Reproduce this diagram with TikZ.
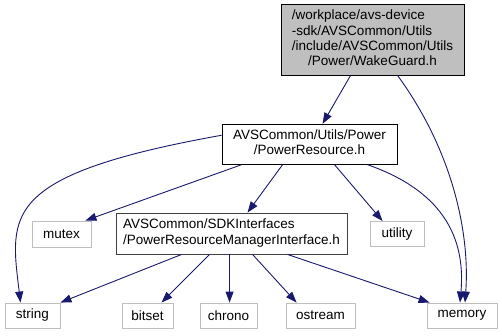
\documentclass[tikz,border=0pt]{standalone}
\usepackage{fontspec}
\setmainfont{Liberation Sans}
\usetikzlibrary{arrows.meta}
\definecolor{edgeblue}{HTML}{191970}
\definecolor{lightframe}{HTML}{BFBFBF}
\definecolor{darkframe}{HTML}{404040}
\tikzset{
  box/.style={rectangle, inner sep=0pt, font=\fontsize{13.5}{15.2}\selectfont, text=black},
  sysbox/.style={box, draw=lightframe, line width=0.9pt},
  docbox/.style={box, draw=black, line width=0.9pt},
  mainbox/.style={box, draw=black, fill=lightframe, line width=0.9pt},
  dep/.style={draw=edgeblue, line width=0.9pt, -{Triangle[length=11pt,width=8pt]}},
}
\begin{document}
\begin{tikzpicture}[x=1pt,y=-1pt]
\useasboundingbox (0,0) rectangle (502,335);

% header being documented
\node[mainbox, minimum width=183pt, minimum height=70.5pt] (wake) at (372.5,39.75)
  {\begin{tabular}{@{}l@{}}/workplace/avs-device\\-sdk/AVSCommon/Utils\\/include/AVSCommon/Utils\\\multicolumn{1}{@{}c@{}}{/Power/WakeGuard.h}\end{tabular}};

% project headers
\node[docbox, minimum width=175pt, minimum height=40pt] (pr) at (309.5,144.25)
  {\begin{tabular}{@{}l@{}}AVSCommon/Utils/Power\\\multicolumn{1}{@{}c@{}}{/PowerResource.h}\end{tabular}};
\node[box, draw=darkframe, line width=0.9pt, minimum width=231pt, minimum height=41pt] (prmi) at (231.5,233.5)
  {\begin{tabular}{@{}l@{}}AVSCommon/SDKInterfaces\\\multicolumn{1}{@{}c@{}}{/PowerResourceManagerInterface.h}\end{tabular}};

% standard library headers
\node[sysbox, minimum width=59pt, minimum height=26pt] (mutex) at (61.5,234) {mutex};
\node[sysbox, minimum width=54pt, minimum height=25pt] (utility) at (397,234) {utility};
\node[sysbox, minimum width=55pt, minimum height=25pt] (string) at (32.5,315.5) {string};
\node[sysbox, minimum width=51pt, minimum height=25pt] (bitset) at (147.5,315.5) {bitset};
\node[sysbox, minimum width=57pt, minimum height=25pt] (chrono) at (228.5,315.5) {chrono};
\node[sysbox, minimum width=69pt, minimum height=25pt] (ostream) at (320.5,315.5) {ostream};
\node[sysbox, minimum width=70pt, minimum height=25pt] (memory) at (462,315.5) {memory};

% include edges
\draw[dep] ([xshift=70pt]wake.south west) -- ([xshift=101pt]pr.north west);
\draw[dep] ([xshift=117pt]wake.south west) .. controls (452,150) and (470,232) .. ([xshift=3pt]memory.north);

\draw[dep] ([yshift=9pt]pr.west) .. controls (0,175) and (10,215) .. ([xshift=-12pt]string.north);
\draw[dep] ([xshift=20pt]pr.south west) -- ([xshift=-6pt]mutex.north east);
\draw[dep] ([xshift=61pt]pr.south west) -- ([xshift=132pt]prmi.north west);
\draw[dep] ([xshift=113pt]pr.south west) -- ([xshift=13pt]utility.north west);
\draw[dep] ([xshift=146pt]pr.south west) .. controls (440,190) and (466,235) .. ([xshift=-2pt]memory.north);

\draw[dep] ([xshift=66pt]prmi.south west) -- (string.north east);
\draw[dep] ([xshift=94pt]prmi.south west) -- ([xshift=40pt]bitset.north west);
\draw[dep] ([xshift=114pt]prmi.south west) -- ([xshift=30pt]chrono.north west);
\draw[dep] ([xshift=137pt]prmi.south west) -- ([xshift=11pt]ostream.north west);
\draw[dep] ([xshift=172pt]prmi.south west) -- ([xshift=3pt]memory.north west);
\end{tikzpicture}
\end{document}
